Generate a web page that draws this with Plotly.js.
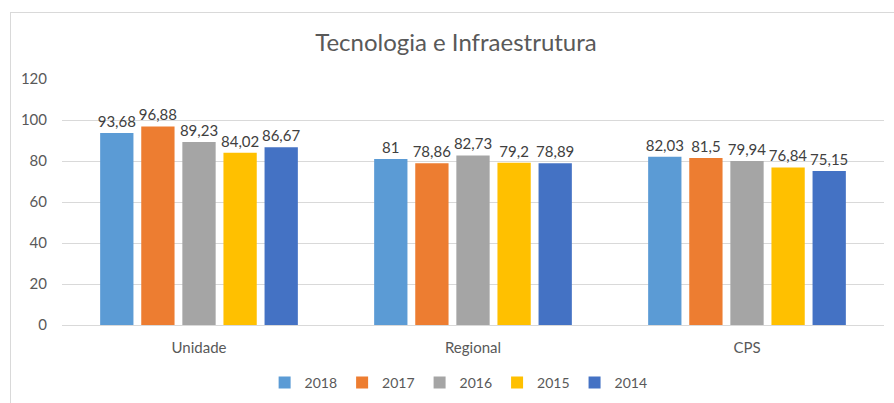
<!DOCTYPE html>
<html>
<head>
<meta charset="utf-8">
<script src="https://cdn.plot.ly/plotly-3.0.1.min.js"></script>
<style>
  html, body { margin: 0; padding: 0; background: #ffffff; }
  #wrap { position: relative; width: 894px; height: 403px; overflow: hidden; }
  #chart { width: 894px; height: 403px; }
  #frame { position: absolute; left: 10px; top: 12px; width: 900px; height: 420px;
           border-left: 1px solid #d9d9d9; border-top: 1px solid #d9d9d9; pointer-events: none; }
</style>
</head>
<body>
<div id="wrap">
  <div id="chart"></div>
  <div id="frame"></div>
</div>
<script>
const categories = ["Unidade", "Regional", "CPS"];
const seriesNames = ["2018", "2017", "2016", "2015", "2014"];
const values2018 = [93.68, 81, 82.03];
const values2017 = [96.88, 78.86, 81.5];
const values2016 = [89.23, 82.73, 79.94];
const values2015 = [84.02, 79.2, 76.84];
const values2014 = [86.67, 78.89, 75.15];
const yTicks = [0, 20, 40, 60, 80, 100, 120];
const colors = ["#5B9BD5", "#ED7D31", "#A5A5A5", "#FFC000", "#4472C4"];

const allValues = [values2018, values2017, values2016, values2015, values2014];
const fontFam = "Lato, 'Open Sans', sans-serif";

const traces = allValues.map((vals, i) => ({
  type: "bar",
  name: seriesNames[i],
  x: categories,
  y: vals,
  marker: { color: colors[i] },
  text: vals.map(v => String(v).replace(".", ",")),
  textposition: "outside",
  constraintext: "none",
  cliponaxis: false,
  textfont: { family: fontFam, size: 15, color: "#404040" },
  hoverinfo: "none"
}));

const layout = {
  width: 894,
  height: 403,
  margin: { l: 62, r: 10, t: 79, b: 78 },
  paper_bgcolor: "#ffffff",
  plot_bgcolor: "#ffffff",
  font: { family: fontFam, color: "#595959" },
  title: {
    text: "Tecnologia e Infraestrutura",
    font: { family: fontFam, size: 24, color: "#595959" },
    x: 0.51, xref: "container", xanchor: "center",
    y: 0.895, yref: "container", yanchor: "middle"
  },
  barmode: "group",
  bargap: 0.25,
  bargroupgap: 0.19,
  xaxis: {
    type: "category",
    tickfont: { family: fontFam, size: 15, color: "#595959" },
    showline: false,
    showgrid: false,
    ticks: "",
    ticklabelstandoff: 12,
    automargin: false
  },
  yaxis: {
    range: [0, 120],
    tickvals: yTicks,
    tickfont: { family: fontFam, size: 15, color: "#595959" },
    showgrid: true,
    gridcolor: "#d9d9d9",
    gridwidth: 1,
    zeroline: true,
    zerolinecolor: "#d9d9d9",
    zerolinewidth: 1,
    showline: false,
    ticks: "",
    ticklabelstandoff: 14,
    automargin: false
  },
  showlegend: true,
  legend: {
    orientation: "h",
    x: 0.513, xref: "container", xanchor: "center",
    y: 0.0496, yref: "container", yanchor: "middle",
    font: { family: fontFam, size: 14, color: "#595959" },
    itemwidth: 30,
    bgcolor: "rgba(0,0,0,0)",
    traceorder: "normal"
  }
};

Plotly.newPlot("chart", traces, layout, { displayModeBar: false, staticPlot: true });
</script>
</body>
</html>
